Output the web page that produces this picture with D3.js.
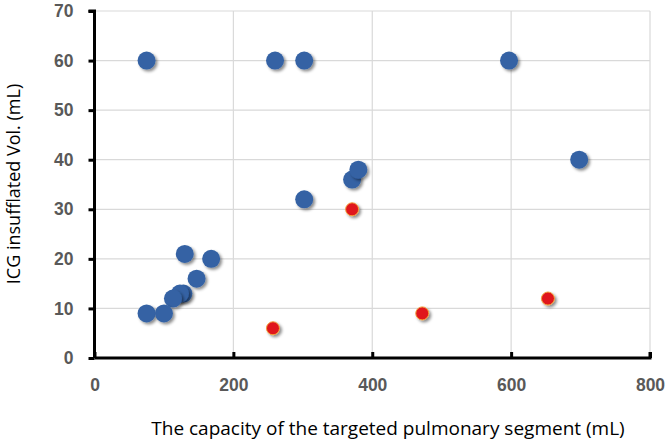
<!DOCTYPE html>
<html><head><meta charset="utf-8">
<script src="https://cdn.jsdelivr.net/npm/d3@7"></script>
<style>body{margin:0;background:#fff}svg{display:block}</style>
</head><body>
<script>
const blueX = [75, 260, 302, 597, 698, 371, 380, 302, 130, 168, 147, 128, 123, 113, 75, 100];
const blueY = [60, 60, 60, 60, 40, 36, 38, 32, 21, 20, 16, 13, 13, 12, 9, 9];
const redX = [257, 371, 472, 653];
const redY = [6, 30, 9, 12];
const xTicks = [0, 200, 400, 600, 800];
const yTicks = [0, 10, 20, 30, 40, 50, 60, 70];
const xTitle = "The capacity of the targeted pulmonary segment (mL)";
const yTitle = "ICG insufflated Vol. (mL)";

const W = 670, H = 443;
const svg = d3.select("body").append("svg").attr("width", W).attr("height", H);
const defs = svg.append("defs");
const f = defs.append("filter").attr("id", "sh").attr("x", "-50%").attr("y", "-50%").attr("width", "200%").attr("height", "200%");
f.append("feDropShadow").attr("dx", 2).attr("dy", 2).attr("stdDeviation", 1.5).attr("flood-color", "#000").attr("flood-opacity", 0.45);

const x = d3.scaleLinear().domain([0, 800]).range([94.5, 650]);
const y = d3.scaleLinear().domain([0, 70]).range([358, 11]);

// grid
const g = svg.append("g");
g.selectAll(".hg").data(yTicks.filter(d => d > 0)).join("line")
  .attr("x1", x(0)).attr("x2", x(800)).attr("y1", d => y(d)).attr("y2", d => y(d))
  .attr("stroke", "#d9d9d9").attr("stroke-width", 1.2);
g.selectAll(".vg").data(xTicks.filter(d => d > 0)).join("line")
  .attr("x1", d => x(d)).attr("x2", d => x(d)).attr("y1", y(0)).attr("y2", y(70))
  .attr("stroke", "#d9d9d9").attr("stroke-width", 1.2);

// axes
const yAxis = svg.append("g").attr("transform", `translate(${x(0)},0)`)
  .call(d3.axisLeft(y).tickValues(yTicks).tickSize(6).tickPadding(15));
const xAxis = svg.append("g").attr("transform", `translate(0,${y(0)})`)
  .call(d3.axisBottom(x).tickValues(xTicks).tickSize(-6).tickPadding(21));
[yAxis, xAxis].forEach(a => {
  a.selectAll(".domain").attr("stroke", "#000").attr("stroke-width", 3);
  a.selectAll(".tick line").attr("stroke", "#000").attr("stroke-width", 3);
  a.selectAll("text").attr("fill", "#595959").attr("font-family", "Liberation Sans, Arial, sans-serif")
    .attr("font-weight", "bold").attr("font-size", 17.5);
});
yAxis.select(".domain").attr("d", `M-6,${y(70)}H0V${y(0)}`);
xAxis.select(".domain").attr("d", `M${x(0)},0H${x(800)}V-6`);

// points
svg.append("g").selectAll("circle").data(blueX.map((d, i) => [d, blueY[i]])).join("circle")
  .attr("cx", d => x(d[0])).attr("cy", d => y(d[1])).attr("r", 9)
  .attr("fill", "#3462a4").attr("filter", "url(#sh)");
svg.append("g").selectAll("circle").data(redX.map((d, i) => [d, redY[i]])).join("circle")
  .attr("cx", d => x(d[0])).attr("cy", d => y(d[1])).attr("r", 6.5)
  .attr("fill", "#e0161e").attr("stroke", "#f2a03a").attr("stroke-width", 1).attr("filter", "url(#sh)");

// titles
svg.append("text").attr("x", 388).attr("y", 435).attr("text-anchor", "middle")
  .attr("font-family", "Open Sans, sans-serif").attr("font-size", 19).attr("fill", "#000").text(xTitle);
svg.append("text").attr("transform", "translate(20,184) rotate(-90)").attr("text-anchor", "middle")
  .attr("font-family", "Open Sans, sans-serif").attr("font-size", 18).attr("fill", "#000").text(yTitle);
</script>
</body></html>
